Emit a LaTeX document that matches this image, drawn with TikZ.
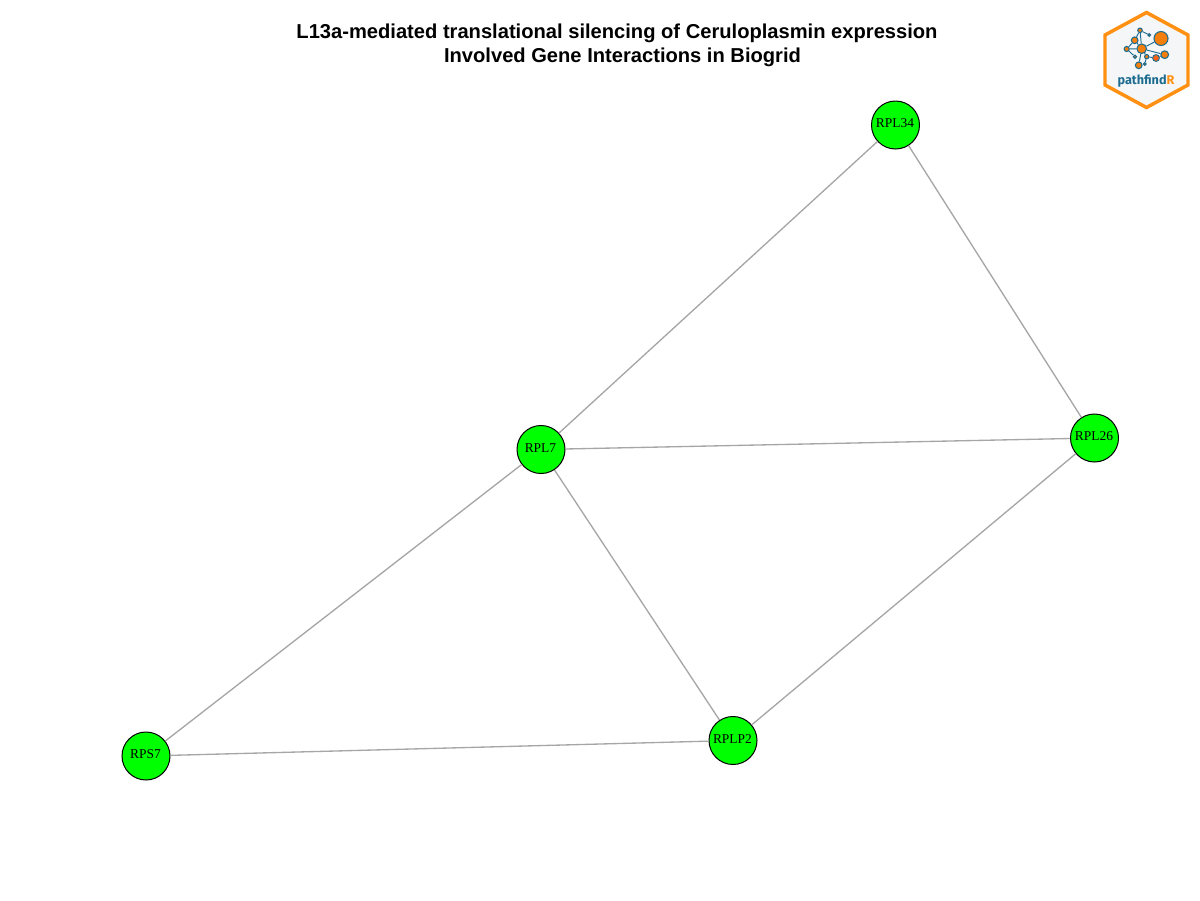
\documentclass[tikz,border=0pt]{standalone}
\usepackage{fontspec}
\setmainfont{Liberation Serif}
\setsansfont{Liberation Sans}
\newfontfamily\logofont{Fira Sans}
\definecolor{genegreen}{HTML}{00FF00}
\definecolor{edgegray}{HTML}{A6A6A6}
\definecolor{logoorange}{HTML}{FF9012}
\definecolor{dotorange}{HTML}{F57F0A}
\definecolor{logoblue}{HTML}{1D6C8F}
\definecolor{logofill}{HTML}{F4F6F8}
\definecolor{logored}{HTML}{F2601C}
\tikzset{
	gene/.style={circle, draw=black, fill=genegreen, line width=0.75pt, minimum size=36pt, inner sep=0pt},
	genelabel/.style={inner sep=0pt, xshift=-0.4pt, yshift=1.2pt, font=\fontsize{10.1}{10}\selectfont},
	interaction/.style={draw=edgegray, line width=1pt},
	heading/.style={font=\sffamily\bfseries\fontsize{15.1}{18}\selectfont},
	dot/.style={circle, draw=logoblue, line width=0.8pt, fill=dotorange, inner sep=0pt},
	link/.style={draw=logoblue, line width=0.7pt}
}

\begin{document}
\begin{tikzpicture}[x=0.75pt, y=-0.75pt]
	\useasboundingbox (0,0) rectangle (1200,900);
	\node[heading] (title) at (617,33.5) {L13a-mediated translational silencing of Ceruloplasmin expression};
	\node[heading] (subtitle) at (622.5,57.5) {Involved Gene Interactions in Biogrid};

	\node[gene, label={[genelabel]center:RPL34}] (RPL34) at (895.5,125) {};
	\node[gene, label={[genelabel]center:RPL26}] (RPL26) at (1094.5,438) {};
	\node[gene, label={[genelabel]center:RPL7}] (RPL7) at (541,449.5) {};
	\node[gene, label={[genelabel]center:RPLP2}] (RPLP2) at (733,740.5) {};
	\node[gene, label={[genelabel]center:RPS7}] (RPS7) at (146,756) {};
	\foreach \a/\b in {RPL34/RPL7, RPL34/RPL26, RPL7/RPL26, RPL7/RPLP2, RPL7/RPS7, RPL26/RPLP2, RPS7/RPLP2}
		\draw[interaction] (\a) -- (\b);

	% logo
	\draw[draw=logoorange, fill=logofill, line width=2.6pt, line join=miter] (1146.5,12.5) -- (1188,35) -- (1188,85) -- (1146.5,107.5) -- (1105,85) -- (1105,35) -- cycle;
	\foreach \a/\b/\c/\d in {1161/38.5/n1/10.5, 1141.7/48.7/n2/7.2, 1134.7/40.3/n3/5, 1140/30.3/n4/3.4, 1149.3/35/n5/2, 1126.7/49/n6/3.8, 1135/56.7/n7/2.4, 1138.7/65.3/n8/5, 1144.7/64/n9/2, 1146.7/56.7/n10/3.2, 1156/58/n11/5, 1164.7/54.7/n12/5.8}
		\node[dot, minimum size=\d pt] (\c) at (\a,\b) {};
	\fill[logored] (n11) circle (2pt);
	\foreach \a/\b in {n2/n1, n2/n3, n2/n4, n3/n4, n4/n5, n2/n6, n3/n6, n6/n7, n2/n8, n2/n10, n2/n12, n10/n9, n10/n11, n11/n12}
		\draw[link] (\a) -- (\b);
	\node[font=\logofont\bfseries\fontsize{9.5}{10}\selectfont, text=logoblue, inner sep=0pt] (logotext) at (1146,81) {pathfind\textcolor{logoorange}{R}};
\end{tikzpicture}
\end{document}
